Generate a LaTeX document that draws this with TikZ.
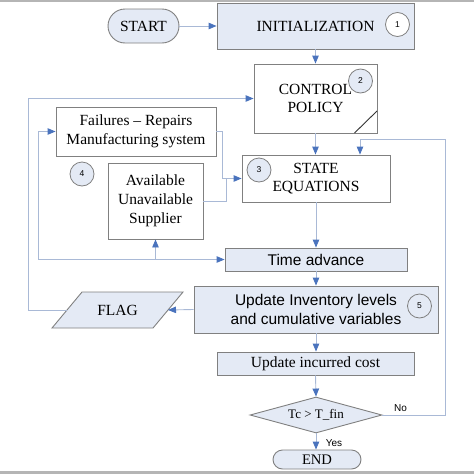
\documentclass[tikz,border=0pt]{standalone}
\usepackage{fontspec}
\setmainfont{Liberation Serif}
\setsansfont{Liberation Sans}
\usetikzlibrary{arrows.meta,shapes.geometric}
\definecolor{boxline}{HTML}{808080}
\definecolor{boxfill}{HTML}{E4EAF5}
\definecolor{connline}{HTML}{A9B9D6}
\definecolor{arrowblue}{HTML}{4A73BD}
\definecolor{band}{HTML}{B5B5B5}
\tikzset{
  base/.style={draw=boxline, line width=0.9pt, inner sep=0pt, align=center,
    font=\fontsize{15.5}{18.5}\selectfont},
  whitebox/.style={base, rectangle, fill=white},
  bluebox/.style={base, rectangle, fill=boxfill},
  pill/.style={base, rectangle, rounded corners=9.5pt, fill=boxfill},
  numcirc/.style={draw=boxline, line width=0.8pt, circle, minimum size=24pt, inner sep=0pt,
    fill=boxfill, font=\sffamily\fontsize{8.5}{10}\selectfont},
  conn/.style={draw=connline, line width=0.9pt},
  arr/.style={conn, -{Triangle[length=8pt,width=6.5pt,color=arrowblue]}},
  lbl/.style={font=\sffamily\fontsize{10}{12}\selectfont, inner sep=0pt},
}
\begin{document}
\begin{tikzpicture}[x=1pt,y=-1pt]
\useasboundingbox (0,0) rectangle (474,474);
\fill[band] (0,0) rectangle (474,2);
\fill[band] (0,470.5) rectangle (474,474);

% nodes
\node[pill, minimum width=71pt, minimum height=34pt, rounded corners=17pt] (start) at (143.5,26) {START};
\node[bluebox, minimum width=197pt, minimum height=46pt] (init) at (315.5,26) {INITIALIZATION};
\node[numcirc, fill=white] (c1) at (397.5,24.5) {1};

\node[whitebox, minimum width=123pt, minimum height=69pt] (ctrl) at (315.5,98.5) {CONTROL\\POLICY};
\node[numcirc] (c2) at (360.5,81) {2};
\coordinate (d1) at (354.5,133);
\coordinate (d2) at (377,111);
\draw[line width=0.9pt, draw=black!80] (d1) -- (d2);

\node[whitebox, minimum width=160pt, minimum height=49pt] (fail) at (136,131.5) {Failures -- Repairs\\Manufacturing system};
\node[whitebox, minimum width=95pt, minimum height=76pt, font=\fontsize{15.5}{19}\selectfont] (avail) at (155.5,201) {Available\\Unavailable\\Supplier};
\node[numcirc] (c4) at (82,174) {4};

\node[whitebox, minimum width=148pt, minimum height=47pt] (state) at (316,178.5) {STATE\\EQUATIONS};
\node[numcirc] (c3) at (259,170) {3};

\node[bluebox, minimum width=182pt, minimum height=23pt, font=\sffamily\fontsize{15.5}{18.5}\selectfont] (time) at (316,259.5) {Time advance};

\node[bluebox, minimum width=244pt, minimum height=47pt, font=\sffamily\fontsize{15.5}{18.5}\selectfont] (upd) at (316,309.5) {Update Inventory levels\\and cumulative variables};
\node[numcirc] (c5) at (419.5,306) {5};

% FLAG parallelogram
\coordinate (f1) at (82,292);
\coordinate (f2) at (183,292);
\coordinate (f3) at (153,328);
\coordinate (f4) at (52,328);
\filldraw[fill=boxfill, draw=boxline, line width=0.9pt] (f1) -- (f2) -- (f3) -- (f4) -- cycle;
\node[font=\fontsize{15.5}{18.5}\selectfont, inner sep=0pt] (flag) at (117.5,310) {FLAG};
\coordinate (flagL) at (67,310);
\coordinate (flagR) at (168,310);

\node[bluebox, minimum width=197pt, minimum height=23pt] (cost) at (315.5,363.5) {Update incurred cost};

\node[base, diamond, fill=boxfill, aspect=3.67, minimum width=132pt, minimum height=36pt, font=\fontsize{13}{15}\selectfont] (dia) at (316,415) {Tc > T\_fin};

\node[pill, minimum width=88pt, minimum height=19pt, font=\fontsize{14.6}{17}\selectfont] (end) at (317,459.5) {END};

% connectors
\draw[arr] (start) -- (init);
\draw[arr] (init.south) -- (ctrl.north);
\draw[arr] (ctrl.south) -- (state.north -| ctrl.south);
\coordinate (lf) at (28,310);
\draw[arr] (flagL) -- (lf) |- (ctrl.west);
\draw[arr] (upd.west) -- (flagR);

\coordinate (lA) at (38,259.5);
\draw[arr] (lA) |- (fail.west);
\draw[arr] (lA) -- (time.west);
\draw[arr] (avail.south |- lA) -- (avail.south);

\coordinate (fj) at (222,131.5);
\draw[arr] (fail.east) -- (fj) |- (state.west);
\coordinate (aj) at (226,201);
\draw[conn] (avail.east) -- (aj) -- (aj |- state.west);

\draw[arr] (state.south) -- (time.north);
\draw[arr] (time.south) -- (upd.north);
\draw[arr] (upd.south) -- (cost.north -| upd.south);
\draw[arr] (cost.south) -- (dia.north);
\draw[arr] (dia.south) -- (end.north -| dia.south);

\coordinate (nr) at (445,415);
\coordinate (nt) at (445,139);
\coordinate (nl) at (360,139);
\draw[arr] (dia.east) -- (nr) -- (nt) -- (nl) -- (nl |- state.north);

\node[lbl] (no) at (400.5,408) {No};
\node[lbl] (yes) at (334,443) {Yes};
\end{tikzpicture}
\end{document}
